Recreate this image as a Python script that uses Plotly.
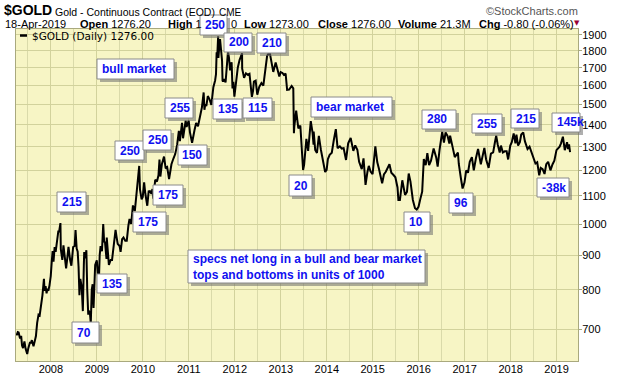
import plotly.graph_objects as go
import math

# ---------------- data ----------------
gold_points = """
2007-04-03 685
2007-04-13 693
2007-04-20 692
2007-05-01 678
2007-05-10 684
2007-05-17 662
2007-05-25 656
2007-06-05 671
2007-06-14 655
2007-06-27 643
2007-07-06 656
2007-07-18 668
2007-07-27 668
2007-08-03 674
2007-08-16 660
2007-08-24 671
2007-09-04 683
2007-09-14 715
2007-09-25 735
2007-10-04 733
2007-10-16 760
2007-10-26 785
2007-11-07 830
2007-11-12 797
2007-11-20 810
2007-11-28 790
2007-12-04 803
2007-12-12 797
2007-12-21 812
2007-12-31 838
2008-01-08 880
2008-01-15 912
2008-01-22 880
2008-01-31 925
2008-02-08 910
2008-02-20 945
2008-02-29 975
2008-03-07 975
2008-03-17 1003
2008-03-20 918
2008-04-01 885
2008-04-10 930
2008-04-24 882
2008-05-01 860
2008-05-09 885
2008-05-20 925
2008-06-02 885
2008-06-12 868
2008-06-26 925
2008-07-08 928
2008-07-15 980
2008-07-24 920
2008-08-01 910
2008-08-08 865
2008-08-15 785
2008-08-22 830
2008-09-02 808
2008-09-11 744
2008-09-19 870
2008-09-22 909
2008-10-01 890
2008-10-09 915
2008-10-16 800
2008-10-24 735
2008-10-28 745
2008-11-06 740
2008-11-13 714
2008-11-21 800
2008-11-28 815
2008-12-05 752
2008-12-12 825
2008-12-18 870
2008-12-31 884
2009-01-08 855
2009-01-15 810
2009-01-23 900
2009-01-30 928
2009-02-10 912
2009-02-20 1000
2009-02-27 942
2009-03-06 940
2009-03-18 888
2009-03-20 955
2009-04-06 870
2009-04-20 885
2009-05-01 885
2009-05-15 930
2009-05-29 980
2009-06-05 960
2009-06-15 935
2009-06-30 928
2009-07-08 910
2009-07-20 950
2009-07-31 955
2009-08-14 945
2009-08-26 945
2009-09-08 995
2009-09-17 1017
2009-09-30 1000
2009-10-14 1065
2009-10-29 1045
2009-11-10 1105
2009-11-25 1188
2009-12-03 1218
2009-12-09 1125
2009-12-22 1087
2009-12-31 1096
2010-01-11 1152
2010-01-20 1110
2010-01-29 1082
2010-02-05 1064
2010-02-16 1117
2010-02-26 1118
2010-03-10 1108
2010-03-18 1126
2010-03-25 1090
2010-04-09 1162
2010-04-23 1155
2010-05-05 1180
2010-05-13 1245
2010-05-20 1175
2010-06-01 1225
2010-06-18 1257
2010-07-01 1208
2010-07-13 1213
2010-07-28 1165
2010-08-16 1225
2010-08-31 1248
2010-09-15 1268
2010-09-30 1308
2010-10-14 1372
2010-10-22 1325
2010-11-08 1410
2010-11-16 1338
2010-11-30 1386
2010-12-07 1421
2010-12-14 1390
2010-12-31 1421
2011-01-10 1365
2011-01-27 1318
2011-02-15 1375
2011-02-28 1409
2011-03-15 1394
2011-03-31 1439
2011-04-15 1486
2011-04-29 1563
2011-05-05 1474
2011-05-12 1502
2011-05-20 1492
2011-06-01 1544
2011-06-15 1527
2011-06-29 1498
2011-07-15 1591
2011-07-29 1628
2011-08-05 1663
2011-08-10 1792
2011-08-16 1785
2011-08-22 1891
2011-08-24 1757
2011-08-31 1826
2011-09-06 1873
2011-09-13 1815
2011-09-22 1742
2011-09-26 1627
2011-09-30 1622
2011-10-07 1635
2011-10-20 1618
2011-11-08 1795
2011-11-16 1760
2011-11-25 1685
2011-12-07 1732
2011-12-14 1585
2011-12-21 1620
2011-12-29 1541
2012-01-13 1640
2012-01-25 1700
2012-02-08 1745
2012-02-28 1785
2012-02-29 1695
2012-03-15 1643
2012-03-30 1668
2012-04-13 1660
2012-04-27 1665
2012-05-16 1540
2012-05-25 1570
2012-06-01 1622
2012-06-15 1627
2012-06-28 1551
2012-07-13 1592
2012-07-31 1614
2012-08-15 1600
2012-08-31 1690
2012-09-14 1770
2012-10-04 1794
2012-10-22 1723
2012-11-02 1676
2012-11-21 1730
2012-12-04 1694
2012-12-20 1650
2012-12-31 1675
2013-01-14 1670
2013-01-25 1659
2013-02-08 1667
2013-02-20 1577
2013-03-08 1578
2013-03-28 1598
2013-04-10 1585
2013-04-15 1361
2013-04-18 1392
2013-05-03 1470
2013-05-20 1384
2013-06-05 1397
2013-06-20 1277
2013-06-27 1201
2013-07-05 1222
2013-07-23 1335
2013-08-06 1282
2013-08-27 1418
2013-09-10 1364
2013-09-18 1309
2013-09-19 1369
2013-10-01 1286
2013-10-15 1273
2013-10-30 1349
2013-11-15 1288
2013-12-06 1230
2013-12-19 1193
2013-12-31 1202
2014-01-10 1247
2014-01-24 1265
2014-02-10 1274
2014-02-26 1330
2014-03-14 1380
2014-03-28 1294
2014-04-15 1302
2014-04-30 1292
2014-05-15 1294
2014-06-03 1243
2014-06-20 1315
2014-07-10 1339
2014-07-31 1282
2014-08-15 1306
2014-09-01 1287
2014-09-15 1235
2014-10-06 1205
2014-10-20 1250
2014-11-05 1142
2014-11-20 1193
2014-12-01 1218
2014-12-15 1195
2014-12-31 1184
2015-01-22 1302
2015-02-06 1234
2015-02-20 1205
2015-03-17 1148
2015-03-31 1183
2015-04-15 1194
2015-05-14 1225
2015-05-29 1190
2015-06-17 1180
2015-06-30 1172
2015-07-17 1132
2015-07-24 1085
2015-08-05 1085
2015-08-24 1160
2015-09-15 1104
2015-09-30 1115
2015-10-14 1187
2015-10-28 1155
2015-11-16 1085
2015-12-03 1055
2015-12-17 1050
2015-12-31 1060
2016-01-15 1090
2016-01-29 1116
2016-02-11 1247
2016-02-26 1221
2016-03-10 1272
2016-03-24 1221
2016-04-08 1240
2016-04-29 1292
2016-05-20 1252
2016-05-31 1215
2016-06-15 1286
2016-06-24 1322
2016-07-06 1367
2016-07-20 1319
2016-08-02 1365
2016-08-18 1348
2016-09-01 1314
2016-09-07 1350
2016-09-20 1317
2016-10-04 1269
2016-10-14 1255
2016-11-08 1274
2016-11-15 1226
2016-12-01 1170
2016-12-15 1128
2016-12-30 1151
2017-01-13 1200
2017-01-27 1190
2017-02-10 1235
2017-02-27 1255
2017-03-14 1200
2017-03-31 1250
2017-04-17 1290
2017-05-09 1225
2017-05-31 1270
2017-06-06 1295
2017-06-20 1245
2017-07-10 1210
2017-07-28 1270
2017-08-15 1275
2017-08-29 1320
2017-09-08 1350
2017-09-20 1310
2017-10-06 1275
2017-10-16 1305
2017-10-31 1275
2017-11-15 1280
2017-11-30 1280
2017-12-12 1245
2017-12-29 1305
2018-01-10 1320
2018-01-25 1360
2018-02-08 1315
2018-02-16 1355
2018-03-01 1305
2018-03-15 1320
2018-03-26 1355
2018-04-11 1365
2018-04-24 1325
2018-05-15 1290
2018-05-31 1300
2018-06-15 1278
2018-06-29 1255
2018-07-17 1228
2018-07-31 1233
2018-08-16 1180
2018-08-28 1210
2018-09-12 1205
2018-09-27 1185
2018-10-11 1225
2018-10-26 1235
2018-11-13 1200
2018-11-30 1225
2018-12-14 1240
2018-12-31 1285
2019-01-10 1290
2019-01-25 1300
2019-02-05 1315
2019-02-20 1345
2019-03-07 1285
2019-03-25 1320
2019-04-02 1290
2019-04-10 1310
2019-04-18 1276
"""
gold_dates = [ln.split()[0] for ln in gold_points.strip().splitlines()]
gold_close = [float(ln.split()[1]) for ln in gold_points.strip().splitlines()]

price_ticks = [700, 800, 900, 1000, 1100, 1200, 1300, 1400, 1500, 1600, 1700, 1800, 1900]
year_ticks = [f"{y}-01-01" for y in range(2008, 2020)]
year_labels = [str(y) for y in range(2008, 2020)]
half_year_ticks = [f"{y}-07-01" for y in range(2007, 2019)]

box_texts = ["250", "200", "210", "bull market", "255", "135", "115", "250", "250",
             "150", "20", "215", "175", "175", "135", "70",
             "specs net long in a bull and bear market<br>tops and bottoms in units of 1000",
             "bear market", "280", "255", "215", "145k", "-38k", "96", "10"]

# ---------------- layout geometry (pixels) ----------------
W, H = 620, 376
L, R, T, B = 16, 578, 29, 361

def px(x):
    return (x - L) / (R - L)

def py(y):
    return (B - y) / (B - T)

box_rects = [(200, 15, 227, 35), (224, 33, 252, 52), (257, 33, 286, 53), (97, 59, 174, 79),
             (165, 98, 193, 118), (213, 99, 242, 119), (243, 98, 272, 118), (115, 141, 144, 160),
             (143, 130, 171, 150), (178, 145, 207, 165), (289, 175, 312, 196), (57, 192, 86, 212),
             (153, 185, 183, 205), (133, 212, 166, 232), (97, 274, 127, 293), (72, 322, 99, 343),
             (188, 250, 425, 283), (311, 97, 392, 117), (422, 110, 456, 129), (472, 114, 502, 133),
             (511, 109, 539, 128), (552, 113, 580, 132), (537, 178, 569, 197), (449, 193, 473, 213),
             (404, 212, 430, 232)]

BG = "#F7F5C5"
GRID = "#D2D29C"
GRID2 = "#DADAAA"
BLUE = "#1010F0"
SANS = "Liberation Sans, Arial"

fig = go.Figure()
fig.add_trace(go.Scatter(x=gold_dates, y=gold_close, mode="lines",
                         line=dict(color="black", width=2), hoverinfo="skip",
                         showlegend=False))

shapes = []
box_ann = []
other_ann = []

# boxes with shadows
for text, (x0, y0, x1, y1) in zip(box_texts, box_rects):
    shapes.append(dict(type="rect", xref="paper", yref="paper", layer="above",
                       x0=px(x0 + 3), x1=px(x1 + 3), y0=py(y0 + 3), y1=py(y1 + 3),
                       fillcolor="rgba(110,110,110,0.55)", line=dict(width=0)))
    shapes.append(dict(type="rect", xref="paper", yref="paper", layer="above",
                       x0=px(x0), x1=px(x1), y0=py(y0), y1=py(y1),
                       fillcolor="white", line=dict(color="#8A8A8A", width=1)))
    box_ann.append(dict(xref="paper", yref="paper", x=px(x0 + 2.5), y=py((y0 + y1) / 2),
                        xanchor="left", yanchor="middle", align="left", showarrow=False,
                        text=f"<b>{text}</b>",
                        font=dict(family=SANS, size=12, color=BLUE)))

# legend inside plot
shapes.append(dict(type="line", xref="paper", yref="paper", x0=px(20), x1=px(27),
                   y0=py(35.5), y1=py(35.5), line=dict(color="black", width=2.5)))
other_ann.append(dict(xref="paper", yref="paper", x=px(30), y=py(35.5), xanchor="left",
                      yanchor="middle", showarrow=False, text="$GOLD (Daily) 1276.00",
                      font=dict(family="DejaVu Sans", size=10.5, color="black")))

# header
other_ann += [
    dict(xref="paper", yref="paper", x=px(2), y=py(10.5), xanchor="left", yanchor="middle",
         showarrow=False, text="<b>$GOLD</b>", font=dict(family=SANS, size=14, color="black")),
    dict(xref="paper", yref="paper", x=px(53), y=py(11.5), xanchor="left", yanchor="middle",
         showarrow=False, text="Gold - Continuous Contract (EOD)",
         font=dict(family=SANS, size=10.5, color="black")),
    dict(xref="paper", yref="paper", x=px(217), y=py(12), xanchor="left", yanchor="middle",
         showarrow=False, text="CME", font=dict(family=SANS, size=10, color="black")),
    dict(xref="paper", yref="paper", x=px(580), y=py(11), xanchor="right", yanchor="middle",
         showarrow=False, text="©StockCharts.com",
         font=dict(family=SANS, size=11, color="#555555")),
    dict(xref="paper", yref="paper", x=px(3), y=py(23.5), xanchor="left", yanchor="middle",
         showarrow=False, text="18-Apr-2019", font=dict(family=SANS, size=11, color="black")),
]
# header quote line; the "High" value is partly hidden behind the top "250" box
hdr_items = [("<b>Open</b> 1276.20", 78), ("<b>High</b> 1", 166), ("0", 229),
             ("<b>Low</b> 1273.00", 242), ("<b>Close</b> 1276.00", 316),
             ("<b>Volume</b> 21.3M", 396), ("<b>Chg</b> -0.80 (-0.06%)", 477)]
for txt, xx in hdr_items:
    other_ann.append(dict(xref="paper", yref="paper", x=px(xx), y=py(23.5), xanchor="left",
                          yanchor="middle", showarrow=False, text=txt,
                          font=dict(family=SANS, size=11, color="black")))
other_ann.append(dict(xref="paper", yref="paper", x=px(577), y=py(23), xanchor="center",
                      yanchor="middle", showarrow=False, text="▼",
                      font=dict(family="DejaVu Sans", size=7, color="#990033")))

annotations = other_ann + box_ann

fig.update_layout(
    width=W, height=H,
    margin=dict(l=L, r=W - R, t=T, b=H - B, pad=0, autoexpand=False),
    paper_bgcolor="white", plot_bgcolor=BG,
    showlegend=False,
    xaxis=dict(type="date", range=["2007-03-30", "2019-06-20"], automargin=False,
               tickmode="array", tickvals=year_ticks, ticktext=year_labels,
               showgrid=True, gridcolor=GRID, gridwidth=1,
               minor=dict(tickmode="array", tickvals=half_year_ticks, showgrid=True,
                          gridcolor=GRID2, gridwidth=1),
               ticks="", ticklabelstandoff=-2,
               showline=True, linecolor="#A9A97E", linewidth=1, mirror=True,
               tickfont=dict(family=SANS, size=11, color="black"),
               zeroline=False, fixedrange=True),
    yaxis=dict(type="log", range=[math.log10(628), math.log10(1939)], side="right",
               automargin=False,
               tickmode="array", tickvals=price_ticks, ticktext=[str(v) for v in price_ticks],
               showgrid=True, gridcolor=GRID, gridwidth=1,
               ticks="outside", ticklen=3, tickcolor="#A9A97E", ticklabelstandoff=-2,
               showline=True, linecolor="#A9A97E", linewidth=1, mirror=True,
               tickfont=dict(family=SANS, size=11, color="black"),
               zeroline=False, fixedrange=True),
    shapes=shapes, annotations=annotations,
)

fig.write_html("out.html", config={"displayModeBar": False, "staticPlot": True},
               post_script="document.body.style.margin='0';document.body.style.overflow='hidden';")
